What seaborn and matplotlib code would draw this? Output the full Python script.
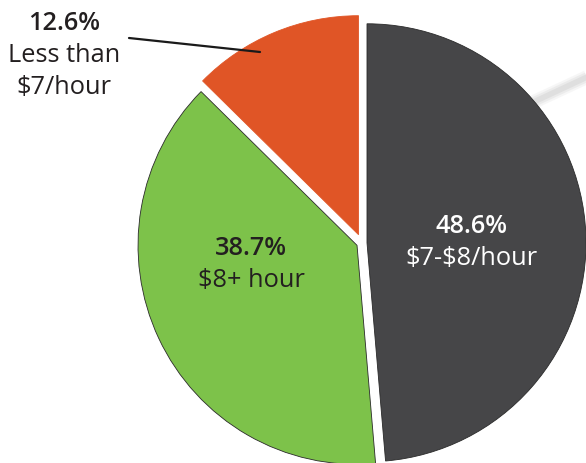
import matplotlib.pyplot as plt
import seaborn as sns

# data
shares = [48.6, 38.7, 12.6]
pct_labels = ['48.6%', '38.7%', '12.6%']
cat_labels = [['$7-$8/hour'], ['$8+ hour'], ['Less than', '$7/hour']]
slice_colors = ['#464648', '#7dc24a', '#e05526']

sns.set_style('white')
plt.rcParams['font.family'] = ['Open Sans', 'DejaVu Sans']

W, H = 586, 463
fig = plt.figure(figsize=(W / 100, H / 100), dpi=100)
ax = fig.add_axes([0, 0, 1, 1])

# faint grey streak behind the dark slice (top right)
for lw, a in [(10, 0.10), (7, 0.15), (4, 0.2)]:
    ax.plot([450, 600], [H - 141, H - 71], color='#b0b0b0', lw=lw, alpha=a,
            solid_capstyle='butt', zorder=0)

wedges, _ = ax.pie(shares, colors=sns.color_palette(slice_colors),
                   startangle=90, counterclock=False,
                   radius=219, center=(362, H - 243),
                   explode=[5, 5.5, 9],
                   wedgeprops=dict(edgecolor='#2a2a2a', linewidth=0.6))
wedges[2].set_edgecolor('#e05526')
for w in wedges:
    w.set_zorder(2)

txt = '#231f20'
fs = 18.3
# label anchors (x, baseline of first line) in pixels from top-left
anchors = [(471, 233), (251, 255), (64, 30)]
text_cols = ['white', txt, txt]
for (x, y), pct, cats, col in zip(anchors, pct_labels, cat_labels, text_cols):
    ax.text(x, H - y, pct, color=col, fontsize=fs, fontweight='semibold',
            ha='center', va='baseline', parse_math=False, zorder=5)
    for i, line in enumerate(cats):
        ax.text(x, H - y - 32 * (i + 1), line, color=col, fontsize=fs,
                ha='center', va='baseline', parse_math=False, zorder=5)

# leader line for the small slice
ax.plot([129, 260], [H - 38, H - 52], color='#1a1a1a', lw=1.6, zorder=6)

ax.set_xlim(0, W)
ax.set_ylim(0, H)
ax.set_aspect('equal')
ax.axis('off')

fig.savefig('out.png', dpi=100)
